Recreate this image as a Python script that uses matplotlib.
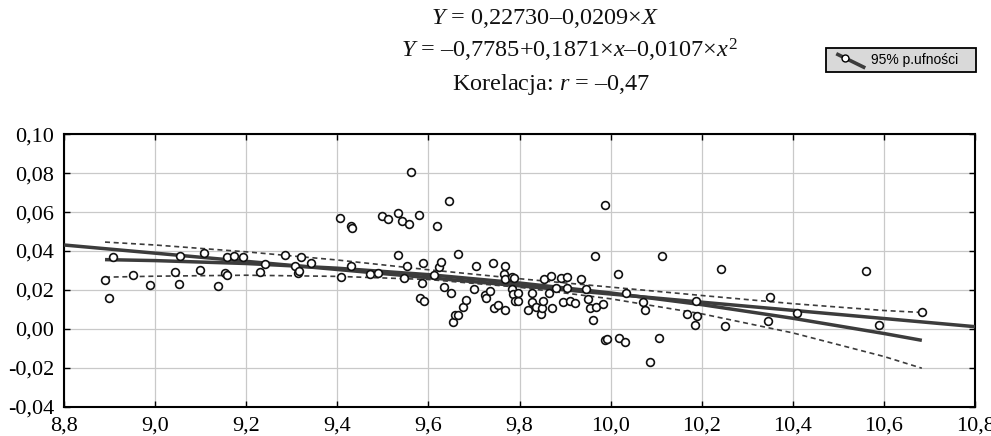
import numpy as np
import matplotlib
matplotlib.use("Agg")
import matplotlib.pyplot as plt
from matplotlib.ticker import FuncFormatter
from matplotlib.patches import Rectangle
from matplotlib.lines import Line2D

plt.rcParams['font.family'] = ['Liberation Serif', 'DejaVu Serif']
plt.rcParams['mathtext.fontset'] = 'custom'
plt.rcParams['mathtext.rm'] = 'Liberation Serif'
plt.rcParams['mathtext.it'] = 'Liberation Serif:italic'
plt.rcParams['axes.unicode_minus'] = False

# scatter points
pts_x = [8.891, 8.898, 8.908, 8.952, 8.989, 9.044, 9.052, 9.054, 9.098, 9.107,
         9.138, 9.153, 9.158, 9.158, 9.173, 9.192, 9.230, 9.242, 9.284, 9.308,
         9.314, 9.316, 9.320, 9.342, 9.405, 9.409, 9.429, 9.432, 9.430, 9.472,
         9.490, 9.497, 9.512, 9.534, 9.534, 9.542, 9.547, 9.553, 9.557, 9.562,
         9.580, 9.582, 9.585, 9.588, 9.591, 9.612, 9.618, 9.623, 9.628, 9.633,
         9.645, 9.649, 9.654, 9.658, 9.665, 9.664, 9.675, 9.682, 9.701, 9.705,
         9.725, 9.726, 9.736, 9.742, 9.743, 9.752,
         9.767, 9.766, 9.767, 9.768, 9.784, 9.787, 9.784, 9.785, 9.790, 9.796,
         9.796, 9.818, 9.827, 9.827, 9.837, 9.848, 9.849, 9.851, 9.853, 9.864,
         9.870, 9.871, 9.879, 9.891, 9.895, 9.903, 9.903, 9.911, 9.922, 9.935,
         9.945, 9.951, 9.954, 9.961, 9.966, 9.968, 9.983, 9.988, 9.987, 9.991,
         10.017, 10.019, 10.032, 10.033, 10.071, 10.076, 10.086, 10.105, 10.112, 10.168,
         10.184, 10.189, 10.188, 10.242, 10.251, 10.346, 10.349, 10.409, 10.560, 10.588,
         10.684]
pts_y = [0.0253, 0.0161, 0.0369, 0.0275, 0.0226, 0.0294, 0.0229, 0.0373, 0.0304, 0.0391,
         0.0221, 0.0289, 0.0275, 0.0371, 0.0374, 0.0369, 0.0294, 0.0335, 0.0381, 0.0323,
         0.0289, 0.0299, 0.0369, 0.0340, 0.0568, 0.0267, 0.0528, 0.0516, 0.0325, 0.0284,
         0.0289, 0.0579, 0.0562, 0.0597, 0.0378, 0.0556, 0.0263, 0.0321, 0.0540, 0.0807,
         0.0585, 0.0157, 0.0234, 0.0337, 0.0145, 0.0275, 0.0530, 0.0316, 0.0344, 0.0215,
         0.0656, 0.0186, 0.0038, 0.0072, 0.0072, 0.0386, 0.0111, 0.0147, 0.0205, 0.0321,
         0.0174, 0.0161, 0.0197, 0.0340, 0.0109, 0.0125,
         0.0321, 0.0284, 0.0097, 0.0255, 0.0265, 0.0262, 0.0207, 0.0178, 0.0144, 0.0144,
         0.0186, 0.0097, 0.0183, 0.0138, 0.0115, 0.0075, 0.0109, 0.0144, 0.0256, 0.0186,
         0.0274, 0.0109, 0.0212, 0.0262, 0.0138, 0.0267, 0.0212, 0.0144, 0.0135, 0.0258,
         0.0207, 0.0156, 0.0109, 0.0048, 0.0376, 0.0113, 0.0130, 0.0634, -0.0058, -0.0051,
         0.0282, -0.0046, -0.0068, 0.0185, 0.0137, 0.0099, -0.0168, -0.0046, 0.0376, 0.0075,
         0.0022, 0.0067, 0.0142, 0.0306, 0.0014, 0.0041, 0.0164, 0.0084, 0.0296, 0.0021,
         0.0087]

# linear fit line (ends read at the axis limits)
lin_x = [8.8, 10.8]
lin_y = [0.0431, 0.0012]

# quadratic fit and its 95% band
fit_x = [8.89, 9.0, 9.2, 9.4, 9.6, 9.8, 10.0, 10.2, 10.4, 10.6, 10.683]
quad_y = [0.0356, 0.0351, 0.0336, 0.0312, 0.0279, 0.0236, 0.0185, 0.0125, 0.0055, -0.0023, -0.0058]
upper_y = [0.0446, 0.0431, 0.0396, 0.0354, 0.0304, 0.0258, 0.0215, 0.0172, 0.0130, 0.0095, 0.0085]
lower_y = [0.0266, 0.0271, 0.0276, 0.0270, 0.0254, 0.0214, 0.0155, 0.0078, -0.0020, -0.0141, -0.0201]

x_ticks = [8.8, 9.0, 9.2, 9.4, 9.6, 9.8, 10.0, 10.2, 10.4, 10.6, 10.8]
y_ticks = [-0.04, -0.02, 0.00, 0.02, 0.04, 0.06, 0.08, 0.10]

fig = plt.figure(figsize=(9.91, 4.36), dpi=100)
ax = fig.add_axes([0.0646, 0.0665, 0.9194, 0.626])

ax.grid(True, color='#c9c9c9', linewidth=0.9)
ax.set_axisbelow(True)

line_col = '#3c3c3c'
ax.plot(fit_x, upper_y, color=line_col, lw=1.2, ls=(0, (3, 2.2)), zorder=2)
ax.plot(fit_x, lower_y, color=line_col, lw=1.2, ls=(0, (3, 2.2)), zorder=2)
ax.plot(lin_x, lin_y, color=line_col, lw=2.5, zorder=3, solid_capstyle='butt')
ax.plot(fit_x, quad_y, color=line_col, lw=2.5, zorder=3, solid_capstyle='butt')
ax.plot(pts_x, pts_y, 'o', mfc='white', mec='#111111', mew=1.2, ms=5.6, zorder=4, clip_on=False)

ax.set_xlim(8.8, 10.8)
ax.set_ylim(-0.04, 0.10)
ax.set_xticks(x_ticks)
ax.set_yticks(y_ticks)
ax.xaxis.set_major_formatter(FuncFormatter(lambda v, p: f"{v:.1f}".replace('.', ',')))
ax.yaxis.set_major_formatter(FuncFormatter(lambda v, p: f"{v:.2f}".replace('.', ',')))
ax.tick_params(direction='in', length=4, width=1.0, labelsize=16,
               top=True, right=True, colors='black')
ax.tick_params(axis='y', pad=7)
ax.tick_params(axis='x', pad=7)
for s in ax.spines.values():
    s.set_linewidth(1.5)

# title lines
tcol = '#111111'
fig.text(0.550, 0.958, r'$Y$ = 0,22730–0,0209×$X$', ha='center', va='center', fontsize=17.5, color=tcol)
fig.text(0.575, 0.884, r'$Y$ = –0,7785+0,1871×$x$–0,0107×$x^{\mathrm{2}}$', ha='center', va='center',
         fontsize=17.5, color=tcol)
fig.text(0.556, 0.806, r'Korelacja: $r$ = –0,47', ha='center', va='center', fontsize=17.5, color=tcol)

# legend box
fig.patches.append(Rectangle((0.8335, 0.835), 0.151, 0.055, transform=fig.transFigure,
                             facecolor='#d9d9d9', edgecolor='black', lw=1.3))
fig.lines.append(Line2D([0.8455, 0.8715], [0.875, 0.846], transform=fig.transFigure,
                        color='#3c3c3c', lw=2.6))
fig.lines.append(Line2D([0.8525], [0.867], transform=fig.transFigure, marker='o',
                        mfc='white', mec='black', ms=5, mew=1.0))
fig.text(0.879, 0.862, '95% p.ufności', ha='left', va='center', fontsize=10,
         family=['Liberation Sans', 'DejaVu Sans'])

fig.savefig('out.png', dpi=100)
